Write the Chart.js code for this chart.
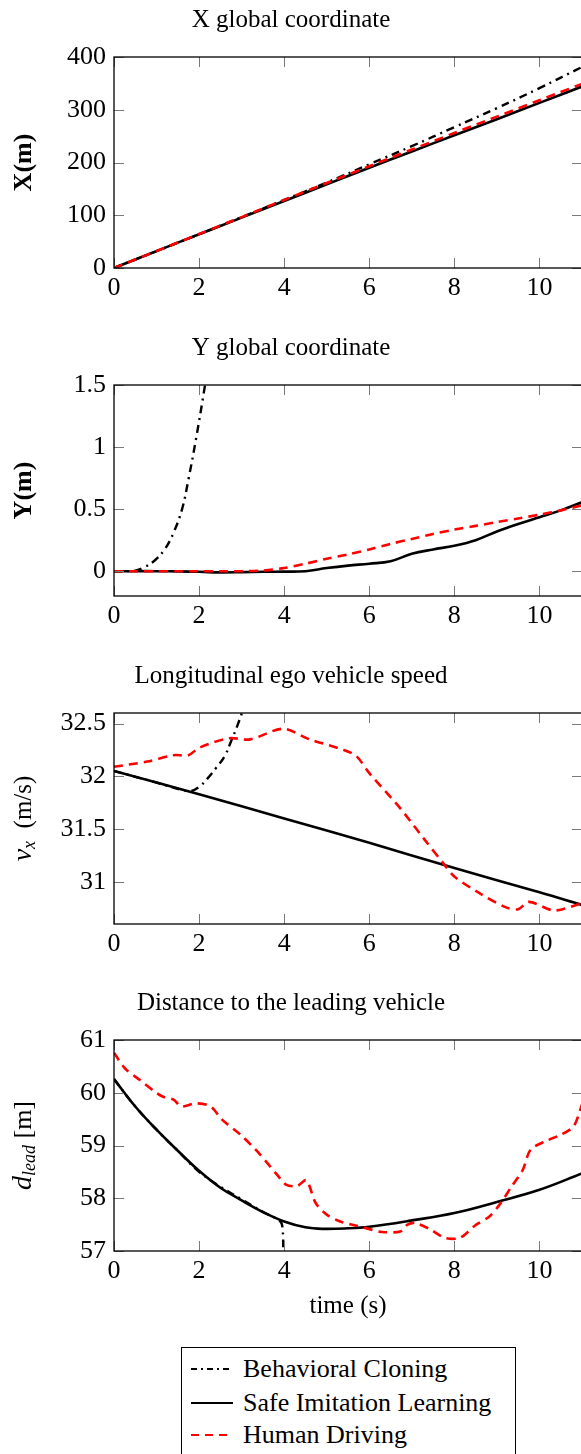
<!DOCTYPE html>
<html>
<head>
<meta charset="utf-8">
<script src="https://cdn.jsdelivr.net/npm/chart.js@4.4.1/dist/chart.umd.min.js"></script>
<style>
  html, body { margin: 0; padding: 0; background: #fff; }
  body { width: 581px; height: 1454px; position: relative; overflow: hidden; font-family: 'Liberation Serif', serif; }
  canvas { position: absolute; left: 0; }
  #legend { position: absolute; left: 181px; top: 1347px; width: 335px; height: 130px; border: 1px solid #000; box-sizing: border-box; }
  .row { position: absolute; left: 0; height: 33px; width: 100%; }
  .row svg { position: absolute; left: 9px; top: 12px; }
  .row span { position: absolute; left: 61px; top: 0; font-size: 26px; line-height: 33px; color: #000; white-space: nowrap; }
</style>
</head>
<body>
<canvas id="cX" width="584" height="328" style="top:0px"></canvas>
<canvas id="cY" width="584" height="328" style="top:328px"></canvas>
<canvas id="cV" width="584" height="328" style="top:656px"></canvas>
<canvas id="cD" width="584" height="360" style="top:983px"></canvas>

<div id="legend">
  <div class="row" style="top:4px">
    <svg width="42" height="10"><line x1="0" y1="5" x2="42" y2="5" stroke="#000" stroke-width="2" stroke-dasharray="6 4 2 4"/></svg>
    <span>Behavioral Cloning</span>
  </div>
  <div class="row" style="top:38px">
    <svg width="42" height="10"><line x1="0" y1="5" x2="42" y2="5" stroke="#000" stroke-width="2"/></svg>
    <span>Safe Imitation Learning</span>
  </div>
  <div class="row" style="top:70px">
    <svg width="42" height="10"><line x1="0" y1="5" x2="42" y2="5" stroke="#f00" stroke-width="2" stroke-dasharray="8 6"/></svg>
    <span>Human Driving</span>
  </div>
</div>

<script>
// shared time axis ticks (s)
const timeTicks = [0, 2, 4, 6, 8, 10];

// X global coordinate (m)
const xTicks = [0, 100, 200, 300, 400];
const tX = [0, 1, 2, 3, 4, 5, 6, 7, 8, 9, 10, 11];
const xBC = [0, 32, 64, 96.5, 129, 162, 196.5, 231, 267, 303, 341, 381];
const xSafe = [0, 32, 64, 95.5, 127, 158.5, 190, 221, 251.5, 282, 313, 344];
const xHuman = [0, 32.1, 64.3, 96.5, 129, 161, 193, 224.5, 256, 287, 318, 349];

// Y global coordinate (m)
const yTicks = [0, 0.5, 1, 1.5];
const tYbc = [0, 0.3, 0.5, 0.7, 0.97, 1.2, 1.4, 1.6, 1.75, 1.93, 2.14, 2.3];
const yBC = [0, 0, 0.005, 0.03, 0.09, 0.18, 0.31, 0.5, 0.74, 1.07, 1.5, 1.85];
const tY = [0, 0.5, 1, 1.5, 2, 2.5, 3, 3.5, 4, 4.5, 5, 5.5, 6, 6.5, 7, 7.5, 8, 8.5, 9, 9.5, 10, 10.5, 11];
const ySafe = [0, 0, 0, -0.002, -0.005, -0.01, -0.008, -0.005, -0.004, 0, 0.025, 0.045, 0.06, 0.08, 0.14, 0.175, 0.205, 0.25, 0.32, 0.38, 0.435, 0.49, 0.555];
const yHuman = [0, 0, 0, 0, 0, 0, 0, 0.005, 0.025, 0.06, 0.1, 0.135, 0.175, 0.22, 0.26, 0.3, 0.335, 0.365, 0.395, 0.425, 0.455, 0.49, 0.53];

// Longitudinal speed (m/s)
const vTicks = [31, 31.5, 32, 32.5];
const tVbc = [0, 1, 1.6, 1.8, 2.0, 2.2, 2.4, 2.6, 2.75, 2.9, 3.05];
const vBC = [32.05, 31.94, 31.87, 31.86, 31.9, 31.98, 32.08, 32.19, 32.33, 32.48, 32.65];
const tVsafe = [0, 2, 4, 6, 8, 10, 11];
const vSafe = [32.05, 31.83, 31.6, 31.37, 31.13, 30.9, 30.78];
const tVh = [0, 0.78, 1.4, 1.75, 2.0, 2.7, 3.2, 3.97, 4.6, 5.4, 5.7, 6.0, 6.7, 7.3, 7.75, 8.0, 8.6, 9.2, 9.5, 9.75, 10.3, 10.55, 11];
const vHuman = [32.09, 32.14, 32.2, 32.2, 32.27, 32.36, 32.35, 32.45, 32.35, 32.25, 32.19, 32.03, 31.71, 31.4, 31.17, 31.05, 30.89, 30.76, 30.74, 30.81, 30.73, 30.74, 30.8];

// Distance to leading vehicle (m)
const dTicks = [57, 58, 59, 60, 61];
const tDbc = [0, 0.5, 1, 1.5, 2, 2.5, 3, 3.5, 3.9, 3.96, 3.98];
const dBC = [60.26, 59.74, 59.3, 58.9, 58.5, 58.22, 57.98, 57.74, 57.57, 57.45, 56.9];
const tD = [0, 0.5, 1, 1.5, 2, 2.5, 3, 3.5, 4, 4.5, 4.9, 5.5, 6, 7, 8, 9, 10, 11];
const dSafe = [60.26, 59.74, 59.3, 58.9, 58.52, 58.2, 57.96, 57.74, 57.56, 57.45, 57.42, 57.43, 57.46, 57.58, 57.72, 57.93, 58.16, 58.47];
const tDh = [0, 0.26, 0.61, 0.96, 1.14, 1.4, 1.58, 1.93, 2.27, 2.54, 2.98, 3.33, 3.6, 3.86, 4.04, 4.3, 4.52, 4.74, 5.0, 5.35, 5.7, 6.03, 6.3, 6.73, 6.9, 7.08, 7.43, 7.78, 8.13, 8.48, 8.83, 9.09, 9.35, 9.61, 9.79, 10.14, 10.49, 10.8, 10.96, 11.05];
const dHuman = [60.76, 60.46, 60.24, 60.02, 59.93, 59.87, 59.74, 59.8, 59.74, 59.49, 59.2, 58.92, 58.67, 58.42, 58.26, 58.23, 58.34, 57.91, 57.69, 57.55, 57.48, 57.41, 57.36, 57.37, 57.5, 57.53, 57.41, 57.25, 57.25, 57.48, 57.66, 57.91, 58.23, 58.54, 58.92, 59.08, 59.2, 59.36, 59.68, 59.9];

const FONT = "'Liberation Serif', serif";
Chart.defaults.font.family = FONT;
Chart.defaults.color = '#000';

const pts = (t, v) => t.map((x, i) => ({ x: x, y: v[i] }));

function seriesBC(data) {
  return { data: data, borderColor: '#000', borderWidth: 2.4, borderDash: [8, 5, 2, 5], order: 3, tension: 0.4 };
}
function seriesSafe(data) {
  return { data: data, borderColor: '#000', borderWidth: 2.6, order: 2, tension: 0.4 };
}
function seriesHuman(data) {
  return { data: data, borderColor: '#f00', borderWidth: 2.6, borderDash: [9, 6], order: 1, tension: 0.3 };
}

// box around the plot + inward tick marks on all four sides
const framePlugin = {
  id: 'frame',
  afterDraw(chart) {
    const { ctx, chartArea: a, scales } = chart;
    ctx.save();
    ctx.strokeStyle = '#7a7a7a';
    ctx.lineWidth = 1;
    ctx.beginPath();
    scales.x.ticks.forEach(tk => {
      const px = Math.round(scales.x.getPixelForValue(tk.value)) + 0.5;
      ctx.moveTo(px, a.bottom); ctx.lineTo(px, a.bottom - 10);
      ctx.moveTo(px, a.top); ctx.lineTo(px, a.top + 10);
    });
    scales.y.ticks.forEach(tk => {
      const py = Math.round(scales.y.getPixelForValue(tk.value)) + 0.5;
      ctx.moveTo(a.left, py); ctx.lineTo(a.left + 10, py);
      ctx.moveTo(a.right, py); ctx.lineTo(a.right - 10, py);
    });
    ctx.stroke();
    ctx.strokeStyle = '#000';
    ctx.lineWidth = 1.3;
    ctx.strokeRect(a.left, a.top, a.right - a.left, a.bottom - a.top);
    ctx.restore();
  }
};

// rotated y label made of pieces (for subscripts)
function yLabelPlugin(parts) {
  return {
    id: 'ylabel',
    afterDraw(chart) {
      const { ctx, chartArea: a } = chart;
      ctx.save();
      ctx.translate(24, (a.top + a.bottom) / 2);
      ctx.rotate(-Math.PI / 2);
      ctx.textBaseline = 'middle';
      ctx.fillStyle = '#000';
      let total = 0;
      parts.forEach(p => { ctx.font = p.font; total += ctx.measureText(p.text).width; });
      let x = -total / 2;
      parts.forEach(p => {
        ctx.font = p.font;
        ctx.fillText(p.text, x, p.dy || 0);
        x += ctx.measureText(p.text).width;
      });
      ctx.restore();
    }
  };
}

const xTitlePlugin = {
  id: 'xtitle',
  afterDraw(chart) {
    const { ctx, chartArea: a } = chart;
    ctx.save();
    ctx.font = '25px ' + FONT;
    ctx.fillStyle = '#000';
    ctx.textAlign = 'center';
    ctx.textBaseline = 'middle';
    ctx.fillText('time (s)', (a.left + a.right) / 2, 323);
    ctx.restore();
  }
};

const asTicks = arr => arr.map(v => ({ value: v }));

function makePanel(id, title, datasets, yMin, yMax, yTickVals, yParts, xAxisH, extra) {
  const plugins = [framePlugin, yLabelPlugin(yParts)];
  if (extra) plugins.push(extra);
  return new Chart(document.getElementById(id), {
    type: 'line',
    data: { datasets: datasets },
    options: {
      responsive: false,
      animation: false,
      layout: { padding: { left: 0, right: 2, top: 0, bottom: 0 } },
      elements: { point: { radius: 0 } },
      plugins: {
        legend: { display: false },
        tooltip: { enabled: false },
        title: { display: true, text: title, color: '#000', font: { size: 25, family: FONT, weight: 'normal' }, padding: { top: 5, bottom: 22 } }
      },
      scales: {
        x: {
          type: 'linear', min: 0, max: 11,
          grid: { display: false, drawTicks: false },
          border: { display: false },
          ticks: { padding: 5, font: { size: 26 }, color: '#000', maxRotation: 0 },
          afterBuildTicks: s => { s.ticks = asTicks(timeTicks); },
          afterFit: s => { s.height = xAxisH; }
        },
        y: {
          type: 'linear', min: yMin, max: yMax,
          grid: { display: false, drawTicks: false },
          border: { display: false },
          ticks: { padding: 8, font: { size: 26 }, color: '#000', callback: v => String(+(+v).toFixed(2)) },
          afterBuildTicks: s => { s.ticks = asTicks(yTickVals); },
          afterFit: s => { s.width = 114; }
        }
      }
    },
    plugins: plugins
  });
}

makePanel('cX', 'X global coordinate', [
  seriesBC(pts(tX, xBC)), seriesSafe(pts(tX, xSafe)), seriesHuman(pts(tX, xHuman))
], 0, 400, xTicks, [{ text: 'X(m)', font: 'bold 26px ' + FONT }], 60);

makePanel('cY', 'Y global coordinate', [
  seriesBC(pts(tYbc, yBC)), seriesSafe(pts(tY, ySafe)), seriesHuman(pts(tY, yHuman))
], -0.2, 1.5, yTicks, [{ text: 'Y(m)', font: 'bold 26px ' + FONT }], 60);

makePanel('cV', 'Longitudinal ego vehicle speed', [
  seriesBC(pts(tVbc, vBC)), seriesSafe(pts(tVsafe, vSafe)), seriesHuman(pts(tVh, vHuman))
], 30.6, 32.6, vTicks, [
  { text: 'v', font: 'italic 28px ' + FONT },
  { text: 'x', font: 'italic 18px ' + FONT, dy: 6 },
  { text: '  (m/s)', font: '25px ' + FONT }
], 60);

makePanel('cD', 'Distance to the leading vehicle', [
  seriesBC(pts(tDbc, dBC)), seriesSafe(pts(tD, dSafe)), seriesHuman(pts(tDh, dHuman))
], 57, 61, dTicks, [
  { text: 'd', font: 'italic 28px ' + FONT },
  { text: 'lead', font: 'italic 18px ' + FONT, dy: 6 },
  { text: ' [m]', font: '26px ' + FONT }
], 92, xTitlePlugin);
</script>
</body>
</html>
